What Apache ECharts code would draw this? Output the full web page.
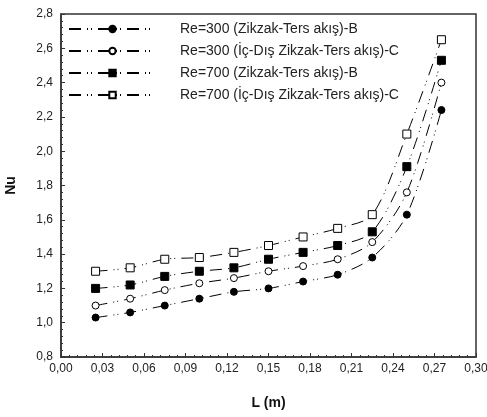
<!DOCTYPE html>
<html>
<head>
<meta charset="utf-8">
<script src="https://cdn.jsdelivr.net/npm/echarts@6/dist/echarts.min.js"></script>
<style>
  html, body { margin: 0; padding: 0; background: #fff; }
  #chart { width: 487px; height: 417px; }
</style>
</head>
<body>
<div id="chart"></div>
<script>
  // lengths along the exchanger (m)
  const lengths = [0.025, 0.05, 0.075, 0.1, 0.125, 0.15, 0.175, 0.2, 0.225, 0.25, 0.275];

  const re300B = [1.03, 1.06, 1.10, 1.14, 1.18, 1.20, 1.24, 1.28, 1.38, 1.63, 2.24];
  const re300C = [1.10, 1.14, 1.19, 1.23, 1.26, 1.30, 1.33, 1.37, 1.47, 1.76, 2.40];
  const re700B = [1.20, 1.22, 1.27, 1.30, 1.32, 1.37, 1.41, 1.45, 1.53, 1.91, 2.53];
  const re700C = [1.30, 1.32, 1.37, 1.38, 1.41, 1.45, 1.50, 1.55, 1.63, 2.10, 2.65];

  const seriesNames = [
    "Re=300 (Zikzak-Ters akış)-B",
    "Re=300 (İç-Dış Zikzak-Ters akış)-C",
    "Re=700 (Zikzak-Ters akış)-B",
    "Re=700 (İç-Dış Zikzak-Ters akış)-C",
  ];

  const comma = (digits) => (v) => v.toFixed(digits).replace(".", ",");
  const dashDotDot = [12, 6, 1, 3, 1, 6];

  function makeSeries(name, values, symbol, filled) {
    return {
      name,
      type: "line",
      smooth: 0.3,
      symbol,
      symbolSize: symbol === "rect" ? 8 : 7,
      showAllSymbol: true,
      lineStyle: { color: "#000", width: 1, type: dashDotDot },
      itemStyle: {
        color: filled ? "#000" : "#fff",
        borderColor: "#000",
        borderWidth: 1,
      },
      data: lengths.map((x, i) => [x, values[i]]),
      z: 3,
    };
  }

  const chart = echarts.init(document.getElementById("chart"), null, { renderer: "canvas" });
  chart.setOption({
    animation: false,
    backgroundColor: "#fff",
    textStyle: { fontFamily: "Arial, 'Liberation Sans', sans-serif" },
    grid: {
      left: 61, right: 11, top: 14, bottom: 60,
      outerBoundsMode: "none",
      containLabel: false,
      show: true, borderColor: "#333", borderWidth: 1.5,
    },
    legend: {
      orient: "vertical",
      left: 68,
      top: 22,
      padding: 0,
      itemWidth: 87,
      itemHeight: 8,
      itemGap: 8,
      textStyle: { color: "#222", fontSize: 14, padding: [0, 0, 0, 19] },
      data: seriesNames,
    },
    xAxis: {
      type: "value",
      min: 0,
      max: 0.3,
      interval: 0.03,
      name: "L (m)",
      nameLocation: "middle",
      nameGap: 39,
      nameTextStyle: { color: "#111", fontSize: 14, fontWeight: "bold" },
      axisLine: { lineStyle: { color: "#333", width: 1.5 } },
      axisTick: { inside: true, length: 4, lineStyle: { color: "#333" } },
      minorTick: { show: true, splitNumber: 5, length: 2, lineStyle: { color: "#333" } },
      axisLabel: { color: "#222", fontSize: 12, margin: 6, formatter: comma(2) },
      splitLine: { show: false },
    },
    yAxis: {
      type: "value",
      min: 0.8,
      max: 2.8,
      interval: 0.2,
      name: "Nu",
      nameLocation: "middle",
      nameRotate: 90,
      nameGap: 43,
      nameTextStyle: { color: "#111", fontSize: 14, fontWeight: "bold" },
      axisLine: { lineStyle: { color: "#333", width: 1.5 } },
      axisTick: { inside: true, length: 4, lineStyle: { color: "#333" } },
      minorTick: { show: true, splitNumber: 5, length: 2, lineStyle: { color: "#333" } },
      axisLabel: { color: "#222", fontSize: 12, margin: 8, formatter: comma(1) },
      splitLine: { show: false },
    },
    series: [
      makeSeries(seriesNames[0], re300B, "circle", true),
      makeSeries(seriesNames[1], re300C, "circle", false),
      makeSeries(seriesNames[2], re700B, "rect", true),
      makeSeries(seriesNames[3], re700C, "rect", false),
    ],
  });
</script>
</body>
</html>
